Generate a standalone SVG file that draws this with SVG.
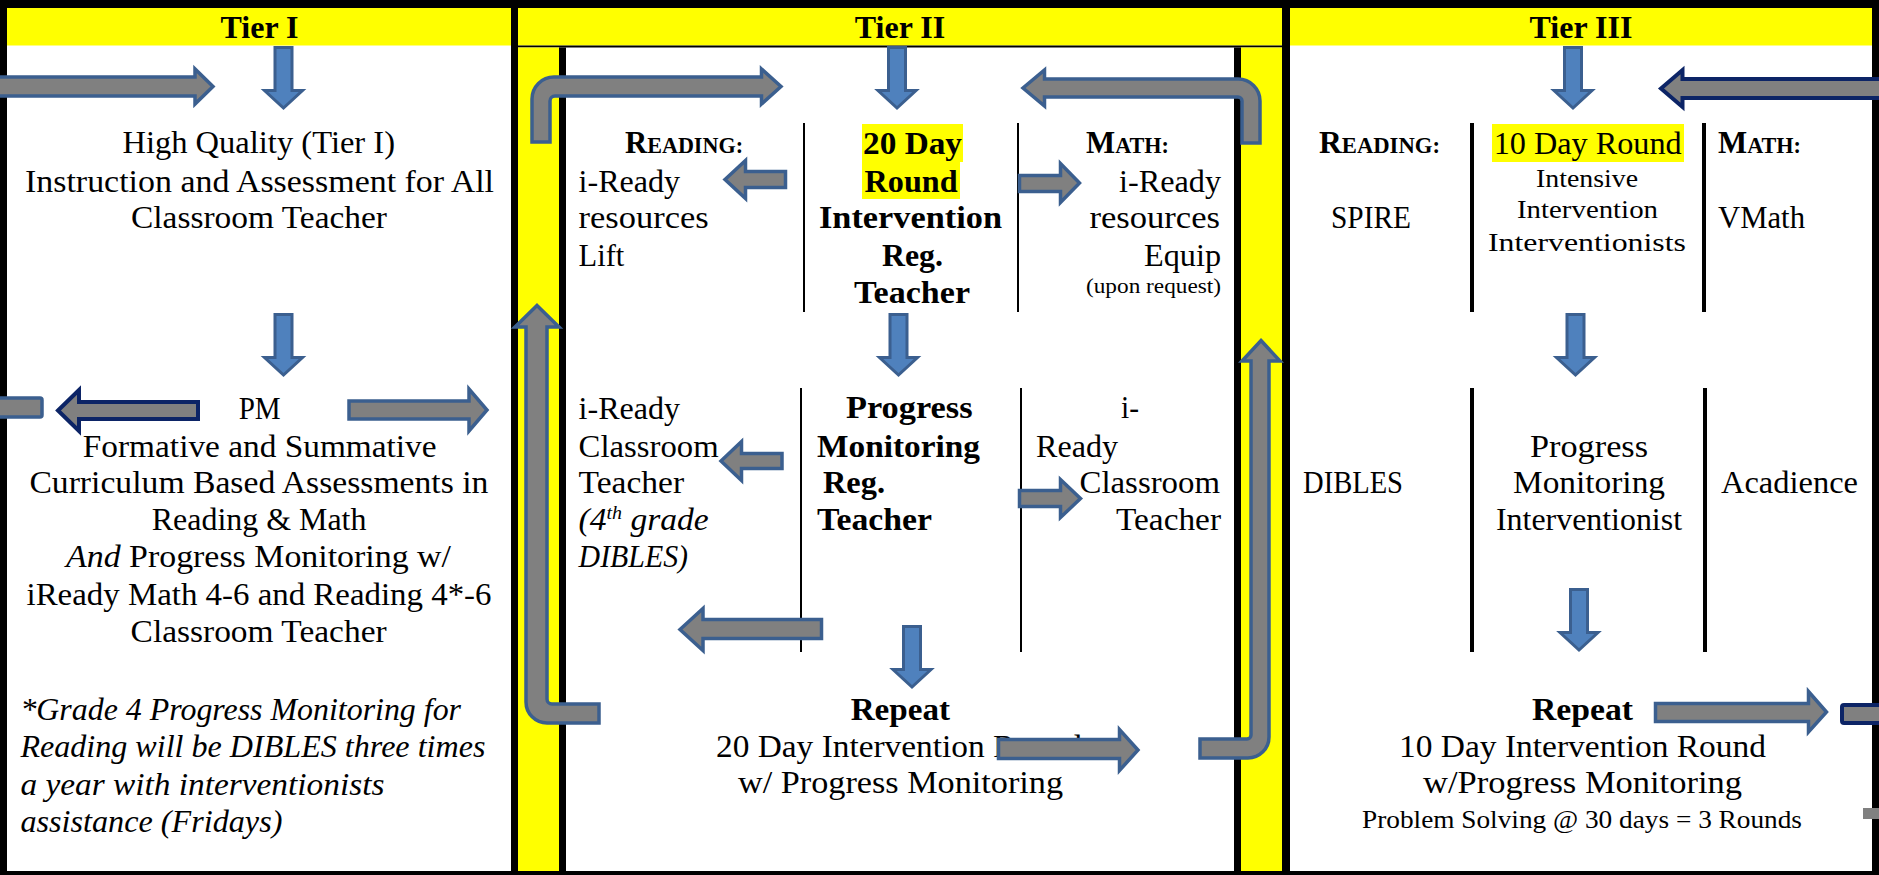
<svg xmlns="http://www.w3.org/2000/svg" width="1879" height="875" viewBox="0 0 1879 875">
<style>
text{font-family:"Liberation Serif","Times New Roman",serif;fill:#000}
.r{font-size:32px}
.b{font-size:32px;font-weight:bold}
.i{font-size:32px;font-style:italic}
.s{font-size:26px}
.t{font-size:21px}
.h{font-size:32px;font-weight:bold;text-anchor:middle}
.gb{fill:#808080;stroke:#3B5F8F;stroke-width:3.5;stroke-linejoin:miter}
.gn{fill:#808080;stroke:#0C2466;stroke-width:4;stroke-linejoin:miter}
.bd{fill:#4F81BD;stroke:#3B5F8F;stroke-width:3}
</style>
<defs>
<path id="down" d="M -8.5,0 H 8.5 V 43 H 19 L 0,60.5 L -19,43 H -8.5 Z"/>
</defs>
<rect x="0" y="0" width="1879" height="875" fill="#fff"/>
<g id="frame">
<rect x="0" y="0" width="1879" height="8" fill="#000"/>
<rect x="0" y="0" width="7" height="875" fill="#000"/>
<rect x="1872" y="0" width="7" height="875" fill="#000"/>
<rect x="0" y="871" width="1879" height="4" fill="#000"/>
<rect x="511" y="0" width="7" height="875" fill="#000"/>
<rect x="1282" y="0" width="8" height="875" fill="#000"/>
<rect x="7" y="8" width="504" height="37.5" fill="#ff0"/>
<rect x="518" y="8" width="764" height="37.5" fill="#ff0"/>
<rect x="518" y="45.5" width="764" height="2" fill="#000"/>
<rect x="518" y="47.5" width="41" height="823.5" fill="#ff0"/>
<rect x="559" y="47.5" width="7" height="823.5" fill="#000"/>
<rect x="1234" y="47.5" width="7" height="823.5" fill="#000"/>
<rect x="1241" y="47.5" width="41" height="823.5" fill="#ff0"/>
<rect x="1290" y="8" width="582" height="37.5" fill="#ff0"/>
<rect x="803" y="123" width="2" height="189" fill="#000"/>
<rect x="1017" y="123" width="2" height="189" fill="#000"/>
<rect x="800" y="388" width="2" height="264" fill="#000"/>
<rect x="1020" y="388" width="2" height="264" fill="#000"/>
<rect x="1470" y="123" width="4" height="189" fill="#000"/>
<rect x="1702" y="123" width="4" height="189" fill="#000"/>
<rect x="1470" y="388" width="4" height="264" fill="#000"/>
<rect x="1703" y="388" width="4" height="264" fill="#000"/>
</g>
<g id="tier1-header"><text class="h" x="259.5" y="38">Tier I</text></g>
<g id="tier2-header"><text class="h" x="900" y="38">Tier II</text></g>
<g id="tier3-header"><text class="h" x="1581" y="38">Tier III</text></g>
<g id="tier1-instruction">
<text class="r" x="122.4" y="153" textLength="272.6" lengthAdjust="spacingAndGlyphs">High Quality (Tier I)</text>
<text class="r" x="25" y="192" textLength="469" lengthAdjust="spacingAndGlyphs">Instruction and Assessment for All</text>
<text class="r" x="131" y="228" textLength="256" lengthAdjust="spacingAndGlyphs">Classroom Teacher</text>
</g>
<g id="tier1-pm">
<text class="r" x="238.7" y="419" textLength="42" lengthAdjust="spacingAndGlyphs">PM</text>
<text class="r" x="82.8" y="457" textLength="353.8" lengthAdjust="spacingAndGlyphs">Formative and Summative</text>
<text class="r" x="29.4" y="493" textLength="459" lengthAdjust="spacingAndGlyphs">Curriculum Based Assessments in</text>
<text class="r" x="151.8" y="530" textLength="214.6" lengthAdjust="spacingAndGlyphs">Reading &amp; Math</text>
<text class="r" x="66" y="567" textLength="385" lengthAdjust="spacingAndGlyphs"><tspan font-style="italic">And</tspan> Progress Monitoring w/</text>
<text class="r" x="26.5" y="605" textLength="465" lengthAdjust="spacingAndGlyphs">iReady Math 4-6 and Reading 4*-6</text>
<text class="r" x="130.6" y="642" textLength="256" lengthAdjust="spacingAndGlyphs">Classroom Teacher</text>
</g>
<g id="tier1-note">
<text class="i" x="20.4" y="720" textLength="440.6" lengthAdjust="spacingAndGlyphs">*Grade 4 Progress Monitoring for</text>
<text class="i" x="20.4" y="757" textLength="465" lengthAdjust="spacingAndGlyphs">Reading will be DIBLES three times</text>
<text class="i" x="20.4" y="795" textLength="364" lengthAdjust="spacingAndGlyphs">a year with interventionists</text>
<text class="i" x="20.4" y="832" textLength="262" lengthAdjust="spacingAndGlyphs">assistance (Fridays)</text>
</g>
<g id="tier2-reading">
<text class="b" x="625" y="153" textLength="118" lengthAdjust="spacingAndGlyphs">R<tspan font-size="23">EADING:</tspan></text>
<text class="r" x="578.6" y="192" textLength="101.5" lengthAdjust="spacingAndGlyphs">i-Ready</text>
<text class="r" x="578.6" y="228" textLength="130" lengthAdjust="spacingAndGlyphs">resources</text>
<text class="r" x="578.6" y="266" textLength="45.7" lengthAdjust="spacingAndGlyphs">Lift</text>
</g>
<g id="tier2-round">
<rect x="862" y="124" width="101" height="38" fill="#ff0"/>
<rect x="862" y="161.5" width="98" height="37.5" fill="#ff0"/>
<text class="b" x="863" y="154" textLength="99" lengthAdjust="spacingAndGlyphs">20 Day</text>
<text class="b" x="864.6" y="192" textLength="93" lengthAdjust="spacingAndGlyphs">Round</text>
<text class="b" x="819" y="228" textLength="183" lengthAdjust="spacingAndGlyphs">Intervention</text>
<text class="b" x="882" y="266" textLength="61" lengthAdjust="spacingAndGlyphs">Reg.</text>
<text class="b" x="854" y="303" textLength="116" lengthAdjust="spacingAndGlyphs">Teacher</text>
</g>
<g id="tier2-math">
<text class="b" x="1086" y="153" textLength="83" lengthAdjust="spacingAndGlyphs">M<tspan font-size="23">ATH:</tspan></text>
<text class="r" x="1119" y="192" textLength="102" lengthAdjust="spacingAndGlyphs">i-Ready</text>
<text class="r" x="1089.4" y="228" textLength="130.6" lengthAdjust="spacingAndGlyphs">resources</text>
<text class="r" x="1144" y="266" textLength="77" lengthAdjust="spacingAndGlyphs">Equip</text>
<text class="t" x="1086" y="293" textLength="135" lengthAdjust="spacingAndGlyphs">(upon request)</text>
</g>
<g id="tier2-pm-reading">
<text class="r" x="578.6" y="419" textLength="101.5" lengthAdjust="spacingAndGlyphs">i-Ready</text>
<text class="r" x="578.6" y="457" textLength="140" lengthAdjust="spacingAndGlyphs">Classroom</text>
<text class="r" x="578.6" y="493" textLength="105.5" lengthAdjust="spacingAndGlyphs">Teacher</text>
<text class="i" x="578.6" y="530" textLength="130" lengthAdjust="spacingAndGlyphs">(4<tspan font-size="19" dy="-11">th</tspan><tspan dy="11"> grade</tspan></text>
<text class="i" x="578.6" y="567" textLength="109.4" lengthAdjust="spacingAndGlyphs">DIBLES)</text>
</g>
<g id="tier2-pm">
<text class="b" x="846" y="418" textLength="126.5" lengthAdjust="spacingAndGlyphs">Progress</text>
<text class="b" x="817" y="457" textLength="163" lengthAdjust="spacingAndGlyphs">Monitoring</text>
<text class="b" x="823" y="493" textLength="62" lengthAdjust="spacingAndGlyphs">Reg.</text>
<text class="b" x="817" y="530" textLength="115" lengthAdjust="spacingAndGlyphs">Teacher</text>
</g>
<g id="tier2-pm-math">
<text class="r" x="1121" y="418" textLength="18" lengthAdjust="spacingAndGlyphs">i-</text>
<text class="r" x="1036" y="457" textLength="82" lengthAdjust="spacingAndGlyphs">Ready</text>
<text class="r" x="1079.5" y="493" textLength="140.5" lengthAdjust="spacingAndGlyphs">Classroom</text>
<text class="r" x="1116" y="530" textLength="105" lengthAdjust="spacingAndGlyphs">Teacher</text>
</g>
<g id="tier2-repeat">
<text class="b" x="850.7" y="720" textLength="99.3" lengthAdjust="spacingAndGlyphs">Repeat</text>
<text class="r" x="716" y="757" textLength="366" lengthAdjust="spacingAndGlyphs">20 Day Intervention Round</text>
<text class="r" x="738" y="793" textLength="325" lengthAdjust="spacingAndGlyphs">w/ Progress Monitoring</text>
</g>
<g id="tier3-reading">
<text class="b" x="1319" y="153" textLength="121" lengthAdjust="spacingAndGlyphs">R<tspan font-size="23">EADING:</tspan></text>
<text class="r" x="1331" y="228" textLength="80" lengthAdjust="spacingAndGlyphs">SPIRE</text>
</g>
<g id="tier3-round">
<rect x="1492" y="124" width="192" height="38" fill="#ff0"/>
<text class="r" x="1493.7" y="154" textLength="188" lengthAdjust="spacingAndGlyphs">10 Day Round</text>
<text class="s" x="1536" y="187" textLength="102" lengthAdjust="spacingAndGlyphs">Intensive</text>
<text class="s" x="1517" y="218" textLength="141" lengthAdjust="spacingAndGlyphs">Intervention</text>
<text class="s" x="1488" y="251" textLength="198" lengthAdjust="spacingAndGlyphs">Interventionists</text>
</g>
<g id="tier3-math">
<text class="b" x="1718" y="153" textLength="83" lengthAdjust="spacingAndGlyphs">M<tspan font-size="23">ATH:</tspan></text>
<text class="r" x="1718" y="228" textLength="87" lengthAdjust="spacingAndGlyphs">VMath</text>
</g>
<g id="tier3-pm-reading"><text class="r" x="1303" y="493" textLength="100" lengthAdjust="spacingAndGlyphs">DIBLES</text></g>
<g id="tier3-pm">
<text class="r" x="1530" y="457" textLength="118" lengthAdjust="spacingAndGlyphs">Progress</text>
<text class="r" x="1513" y="493" textLength="152" lengthAdjust="spacingAndGlyphs">Monitoring</text>
<text class="r" x="1496" y="530" textLength="186" lengthAdjust="spacingAndGlyphs">Interventionist</text>
</g>
<g id="tier3-pm-math"><text class="r" x="1721" y="493" textLength="137" lengthAdjust="spacingAndGlyphs">Acadience</text></g>
<g id="tier3-repeat">
<text class="b" x="1532" y="720" textLength="101" lengthAdjust="spacingAndGlyphs">Repeat</text>
<text class="r" x="1399" y="757" textLength="367" lengthAdjust="spacingAndGlyphs">10 Day Intervention Round</text>
<text class="r" x="1423" y="793" textLength="319" lengthAdjust="spacingAndGlyphs">w/Progress Monitoring</text>
<text class="s" x="1362" y="828" textLength="440" lengthAdjust="spacingAndGlyphs">Problem Solving @ 30 days = 3 Rounds</text>
</g>
<g id="connectors">
<use href="#down" class="bd" transform="translate(283.5,47.5)"/>
<use href="#down" class="bd" transform="translate(283.5,314.5)"/>
<use href="#down" class="bd" transform="translate(897,47.5)"/>
<use href="#down" class="bd" transform="translate(898.5,314.5)"/>
<use href="#down" class="bd" transform="translate(912,626.5)"/>
<use href="#down" class="bd" transform="translate(1573,47.5)"/>
<use href="#down" class="bd" transform="translate(1575.5,314.5)"/>
<use href="#down" class="bd" transform="translate(1579,589.5)"/>
<polygon class="gb" points="-10,77 195,77 195,69 213,86.5 195,104 195,96 -10,96"/>
<polygon class="gn" points="58,410.5 79,390 79,402 198,402 198,419 79,419 79,431"/>
<rect class="gb" x="-10" y="398" width="52" height="19" rx="2"/>
<polygon class="gb" points="349,401 469,401 469,389 487,410 469,431 469,419 349,419"/>
<path class="gb" d="M 532,142 V 99 A 22 22 0 0 1 554,77 H 761.5 V 69 L 781,86.5 L 761.5,104 V 96 H 555 A 5 5 0 0 0 550,101 V 142 Z"/>
<path class="gb" d="M 1260,143 V 101 A 22 22 0 0 0 1238,79 H 1044.5 V 70 L 1023,88 L 1044.5,106 V 97 H 1238 A 4 4 0 0 1 1242,101 V 143 Z"/>
<polygon class="gb" points="725,179.5 745.5,160.5 745.5,171.5 785.5,171.5 785.5,187.5 745.5,187.5 745.5,198.5"/>
<polygon class="gb" points="1019.5,175.5 1060.5,175.5 1060.5,163.5 1079.5,183 1060.5,202.5 1060.5,191.5 1019.5,191.5"/>
<polygon class="gb" points="721,461 741.5,441.5 741.5,453.5 782,453.5 782,468.5 741.5,468.5 741.5,480.5"/>
<polygon class="gb" points="1019.5,490.5 1060.5,490.5 1060.5,479.5 1080.5,498.5 1060.5,517.5 1060.5,506.5 1019.5,506.5"/>
<polygon class="gb" points="680,629.5 703,608.5 703,619.5 821.5,619.5 821.5,638.5 703,638.5 703,650.5"/>
<polygon class="gb" points="998.5,739.5 1119.5,739.5 1119.5,729.5 1138,750 1119.5,770.5 1119.5,758.5 998.5,758.5"/>
<path class="gb" d="M 537,305.5 L 559,327 H 547 V 699 A 5 5 0 0 0 552,704 H 599 V 723 H 547 A 21 21 0 0 1 526,702 V 327 H 515 Z"/>
<path class="gb" d="M 1261,340.5 L 1280,361 H 1269 V 737 A 21 21 0 0 1 1248,758 H 1200 V 739 H 1247 A 4 4 0 0 0 1251,735 V 361 H 1242 Z"/>
<polygon class="gn" points="1661,88.5 1682.5,70 1682.5,79 1895,79 1895,98 1682.5,98 1682.5,107"/>
<polygon class="gb" points="1655.5,703.5 1808.5,703.5 1808.5,691.5 1826.5,712 1808.5,732 1808.5,721.5 1655.5,721.5"/>
<rect class="gn" x="1842" y="705" width="60" height="18" rx="2"/>
<rect x="1863" y="808" width="20" height="11" fill="#808080"/>
</g>
</svg>
